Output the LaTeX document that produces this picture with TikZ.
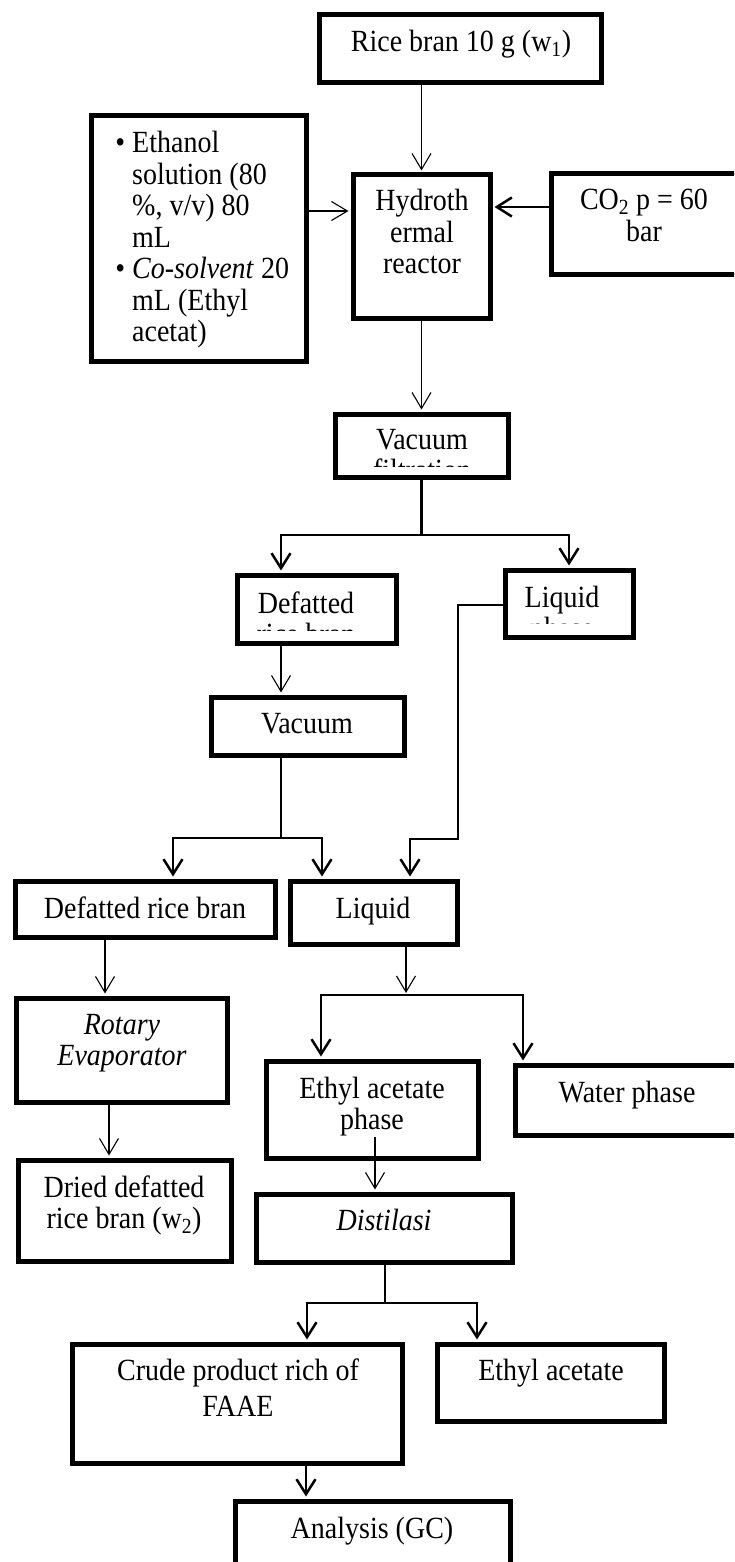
\documentclass[tikz,border=0pt]{standalone}
\usepackage{fontspec}
\setmainfont{Liberation Serif}
\usetikzlibrary{arrows.meta}

\newcommand{\stk}[2][c]{\begin{tabular}[t]{@{}#1@{}}#2\end{tabular}}

\tikzset{
    box/.style={draw, line width=5pt, fill=white, inner sep=0pt},
    txt/.style={anchor=base, inner sep=0pt, yscale=1.1, transform shape,
        font=\fontsize{28}{28.6}\selectfont},
    flow/.style={line width=1.1pt, shorten >=2pt, -{Straight Barb[length=16pt,width=19pt]}},
    branch/.style={line width=2.5pt, shorten >=2pt, -{Straight Barb[length=15pt,width=19pt]}},
    trunk/.style={line width=2.5pt, line cap=rect}
}

\begin{document}
\begin{tikzpicture}[x=1pt, y=-1pt]
    \clip (0,0) rectangle (734,1562);

    % boxes
    \draw node[box, minimum width=282, minimum height=68] (rice) at (460,49) {}
        node[box, minimum width=215, minimum height=245] (solv) at (198.5,238.5) {}
        node[box, minimum width=137, minimum height=143] (reactor) at (421.5,246.5) {}
        node[box, minimum width=189, minimum height=100] (co2) at (645.5,224) {}
        node[box, minimum width=173, minimum height=63] (vacfil) at (421.5,445.5) {}
        node[box, minimum width=159, minimum height=68] (defat) at (316.5,609) {}
        node[box, minimum width=128, minimum height=67] (liqa) at (569,603.5) {}
        node[box, minimum width=193, minimum height=58] (vacb) at (307.5,726) {}
        node[box, minimum width=260, minimum height=56] (drb) at (145,909) {}
        node[box, minimum width=167, minimum height=63] (liqb) at (373.5,912.5) {}
        node[box, minimum width=211, minimum height=104] (rotary) at (121.5,1050) {}
        node[box, minimum width=212, minimum height=97] (etph) at (372,1109.5) {}
        node[box, minimum width=230, minimum height=70] (water) at (630,1100) {}
        node[box, minimum width=213, minimum height=101] (dried) at (124.5,1210.5) {}
        node[box, minimum width=256, minimum height=68] (distil) at (384,1228) {}
        node[box, minimum width=330, minimum height=119] (crude) at (237,1403.5) {}
        node[box, minimum width=227, minimum height=77] (etac) at (550.5,1382.5) {}
        node[box, minimum width=275, minimum height=74] (analysis) at (372.5,1538) {};

    % texts
    \draw node[txt] (ricet) at (461,52) {Rice bran 10 g (w\textsubscript{1})}
        node[txt, anchor=base west] (solvt) at (132,153) {\stk[l]{\llap{\textbullet\ }Ethanol\\ solution (80\\ \%, v/v) 80\\ mL\\ \llap{\textbullet\ }\textit{Co-solvent} 20\\ mL (Ethyl\\ acetat)}}
        node[txt] (reactort) at (422,211) {\stk{Hydroth\\ ermal\\ reactor}}
        node[txt] (co2t) at (644,210) {\stk{CO\textsubscript{2} p = 60\\ bar}}
        node[txt] (vacbt) at (307,733) {Vacuum}
        node[txt] (drbt) at (145,918) {Defatted rice bran}
        node[txt] (liqbt) at (373,918) {Liquid}
        node[txt] (rotaryt) at (122,1034) {\stk{\textit{Rotary}\\ \textit{Evaporator}}}
        node[txt] (etpht) at (372,1098) {\stk{Ethyl acetate\\ phase}}
        node[txt] (watert) at (627,1102) {Water phase}
        node[txt] (driedt) at (124,1197) {\stk{Dried defatted\\ rice bran (w\textsubscript{2})}}
        node[txt] (distilt) at (384,1230) {\textit{Distilasi}}
        node[txt] (crudet) at (238,1380) {\stk{Crude product rich of\\[4.5pt] FAAE}}
        node[txt] (etact) at (551,1380) {Ethyl acetate}
        node[txt] (analysist) at (372,1538) {Analysis (GC)};

    % texts cut off by their boxes
    \begin{scope}
        \clip (336,415) rectangle (507,466);
        \node[txt] (vacfilt) at (422,449) {\stk{Vacuum\\ filtration}};
    \end{scope}
    \begin{scope}
        \clip (240,578) rectangle (393,630);
        \node[txt] (defatt) at (306,613) {\stk{Defatted\\ rice bran}};
    \end{scope}
    \begin{scope}
        \clip (508,573) rectangle (630,623);
        \node[txt] (liqat) at (562,607) {\stk{Liquid\\ phase}};
    \end{scope}

    \coordinate (solvout) at (306,211);
    \coordinate (co2in) at (551,207);
    \coordinate (spl) at (281,535);
    \coordinate (spr) at (569,535);
    \coordinate (bypa) at (458,605);
    \coordinate (bypb) at (410,839);
    \coordinate (sbl) at (173,838);
    \coordinate (sbr) at (322,838);
    \coordinate (drbout) at (105,937);
    \coordinate (rotout) at (109,1102);
    \coordinate (sc) at (406,995);
    \coordinate (scl) at (321,995);
    \coordinate (scr) at (523,995);
    \coordinate (etphout) at (375,1137);
    \coordinate (sd) at (385,1303);
    \coordinate (sdl) at (307,1303);
    \coordinate (sdr) at (477,1303);
    \coordinate (crout) at (306,1463);

    % feeds into the reactor
    \draw[flow] (reactor.north |- rice.south) -- (reactor.north);
    \draw[flow] (solvout) -- (solvout -| reactor.west);
    \draw[branch] (co2in) -- (co2in -| reactor.east);
    \draw[flow] (reactor.south) -- (vacfil.north);

    % vacuum filtration split
    \draw[trunk] (vacfil.south) -- (vacfil.south |- spl);
    \draw[trunk] (spl) -- (spr);
    \draw[branch] (spl) -- (spl |- defat.north);
    \draw[branch] (spr) -- (spr |- liqa.north);
    \draw[branch] (bypa -| liqa.west) -- (bypa) |- (bypb) -- (bypb |- liqb.north);
    \draw[flow] (spl |- defat.south) -- (spl |- vacb.north);

    % vacuum split
    \draw[trunk] (spl |- vacb.south) -- (spl |- sbl);
    \draw[trunk] (sbl) -- (sbr);
    \draw[branch] (sbl) -- (sbl |- drb.north);
    \draw[branch] (sbr) -- (sbr |- liqb.north);
    \draw[flow] (drbout) -- (drbout |- rotary.north);
    \draw[flow] (rotout) -- (rotout |- dried.north);

    % liquid split
    \draw[flow] (sc |- liqb.south) -- (sc);
    \draw[trunk] (scl) -- (scr);
    \draw[branch] (scl) -- (scl |- etph.north);
    \draw[branch] (scr) -- (scr |- water.north);
    \draw[flow] (etphout) -- (etphout |- distil.north);

    % distilasi split
    \draw[trunk] (sd |- distil.south) -- (sd);
    \draw[trunk] (sdl) -- (sdr);
    \draw[branch] (sdl) -- (sdl |- crude.north);
    \draw[branch] (sdr) -- (sdr |- etac.north);
    \draw[branch] (crout) -- (crout |- analysis.north);
\end{tikzpicture}
\end{document}
